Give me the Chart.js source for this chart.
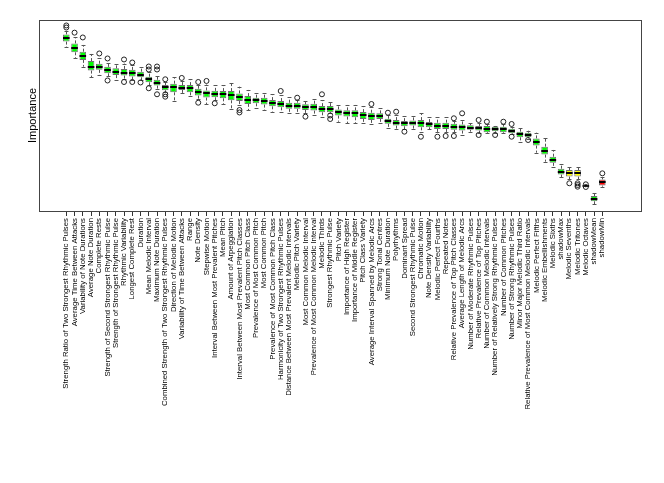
<!DOCTYPE html>
<html><head><meta charset="utf-8">
<script src="https://cdn.jsdelivr.net/npm/chart.js@4/dist/chart.umd.min.js"></script>
<style>html,body{margin:0;padding:0;background:#fff;}canvas{display:block}</style>
</head><body>
<canvas id="c" width="664" height="483"></canvas>
<script>
const features = [
"Strength Ratio of Two Strongest Rhythmic Pulses","Average Time Between Attacks","Variability of Note Durations","Average Note Duration","Complete Rests",
"Strength of Second Strongest Rhythmic Pulse","Strength of Strongest Rhythmic Pulse","Rhythmic Variability","Longest Complete Rest","Duration",
"Mean Melodic Interval","Maximum Note Duration","Combined Strength of Two Strongest Rhythmic Pulses","Direction of Melodic Motion","Variability of Time Between Attacks",
"Range","Note Density","Stepwise Motion","Interval Between Most Prevalent Pitches","Mean Pitch",
"Amount of Arpeggiation","Interval Between Most Prevalent Pitch Classes","Most Common Pitch Class","Prevalence of Most Common Pitch","Most Common Pitch",
"Prevalence of Most Common Pitch Class","Harmonicity of Two Strongest Rhythmic Pulses","Distance Between Most Prevalent Melodic Intervals","Melodic Pitch Variety","Most Common Melodic Interval",
"Prevalence of Most Common Melodic Interval","Melodic Thirds","Strongest Rhythmic Pulse","Pitch Variety","Importance of High Register",
"Importance of Middle Register","Pitch Class Variety","Average Interval Spanned by Melodic Arcs","Strong Tonal Centres","Minimum Note Duration",
"Polyrhythms","Dominant Spread","Second Strongest Rhythmic Pulse","Chromatic Motion","Note Density Variability",
"Melodic Perfect Fourths","Repeated Notes","Relative Prevalence of Top Pitch Classes","Average Length of Melodic Arcs","Number of Moderate Rhythmic Pulses",
"Relative Prevalence of Top Pitches","Number of Common Melodic Intervals","Number of Relatively Strong Rhythmic Pulses","Number of Common Pitches","Number of Strong Rhythmic Pulses",
"Minor Major Melodic Third Ratio","Relative Prevalence of Most Common Melodic Intervals","Melodic Perfect Fifths","Melodic Embellishments","Melodic Sixths",
"shadowMax","Melodic Sevenths","Melodic Tritones","Melodic Octaves","shadowMean","shadowMin"];

const decision = [
"Confirmed","Confirmed","Confirmed","Confirmed","Confirmed","Confirmed","Confirmed","Confirmed","Confirmed","Confirmed",
"Confirmed","Confirmed","Confirmed","Confirmed","Confirmed","Confirmed","Confirmed","Confirmed","Confirmed","Confirmed",
"Confirmed","Confirmed","Confirmed","Confirmed","Confirmed","Confirmed","Confirmed","Confirmed","Confirmed","Confirmed",
"Confirmed","Confirmed","Confirmed","Confirmed","Confirmed","Confirmed","Confirmed","Confirmed","Confirmed","Confirmed",
"Confirmed","Confirmed","Confirmed","Confirmed","Confirmed","Confirmed","Confirmed","Confirmed","Confirmed","Confirmed",
"Confirmed","Confirmed","Confirmed","Confirmed","Confirmed","Confirmed","Confirmed","Confirmed","Confirmed","Confirmed",
"Confirmed","Tentative","Tentative","Rejected","Confirmed","Rejected"];

const whiskerHigh = [30.0,28.95,27.67,26.17,25.42,24.72,24.58,24.58,24.33,24.0,
23.17,22.5,21.5,22.28,21.67,22.0,21.0,21.08,20.92,20.92,
21.38,20.72,20.17,19.62,19.62,19.45,19.33,18.95,18.58,18.38,
18.62,18.5,18.22,17.67,17.67,17.67,17.5,17.33,17.12,16.0,
16.0,15.83,15.83,16.28,15.62,15.62,15.62,15.0,15.17,14.62,
14.67,14.5,14.17,14.42,14.0,13.78,13.38,13.05,12.12,10.17,
7.78,7.38,7.38,4.3,3.05,5.62];

const upperQuartile = [29.43,27.93,26.55,24.98,24.55,24.02,23.77,23.68,23.52,23.22,
22.38,21.88,20.98,21.22,20.98,20.98,20.38,20.1,20.02,19.98,
19.98,19.6,19.15,18.88,18.88,18.48,18.32,18.05,18.05,17.77,
17.88,17.48,17.48,16.93,16.77,16.77,16.48,16.38,16.27,15.38,
15.15,14.98,15.1,15.15,14.82,14.72,14.72,14.55,14.43,14.27,
14.18,14.15,14.05,14.05,13.72,13.22,13.05,12.1,10.72,9.05,
7.05,6.82,6.82,4.25,2.48,5.27];

const median = [28.75,27.22,25.88,24.08,24.05,23.5,23.17,23.08,22.92,22.67,
21.95,21.38,20.65,20.6,20.55,20.45,19.83,19.62,19.55,19.47,
19.33,18.92,18.58,18.5,18.33,17.95,17.83,17.55,17.5,17.28,
17.28,17.0,17.0,16.45,16.28,16.28,16.0,15.88,15.88,15.0,
14.72,14.7,14.68,14.62,14.45,14.22,14.22,14.05,13.95,13.88,
13.83,13.68,13.66,13.64,13.38,12.78,12.67,11.45,10.05,8.5,
6.55,6.28,6.28,4.22,2.0,4.78];

const lowerQuartile = [28.23,26.45,25.18,23.4,23.52,22.95,22.65,22.57,22.4,22.28,
21.45,20.9,20.12,19.78,20.18,19.78,19.23,18.9,18.95,18.78,
18.45,18.32,17.85,17.95,17.73,17.45,17.28,17.02,17.02,16.85,
16.73,16.45,16.45,15.9,15.73,15.62,15.35,15.18,15.35,14.52,
14.23,14.12,14.23,13.95,13.95,13.68,13.68,13.52,13.4,13.52,
13.4,13.12,13.28,13.12,12.95,12.28,12.28,10.9,9.4,8.02,
6.07,5.73,5.73,4.18,1.62,4.23];

const whiskerLow = [27.33,25.42,24.05,22.25,22.67,22.5,21.83,22.0,21.83,21.83,
21.0,20.33,19.83,18.33,19.62,19.22,18.67,17.83,18.5,17.78,
17.05,17.67,16.83,17.12,16.83,16.55,16.55,16.28,16.28,16.33,
16.0,15.72,16.25,14.88,14.62,14.62,14.62,14.5,14.72,13.78,
13.62,13.67,13.62,13.17,13.62,13.17,13.17,13.17,12.67,13.22,
13.0,12.95,13.08,12.95,12.75,11.55,12.08,9.72,8.22,7.38,
5.62,5.33,5.33,4.13,1.12,4.05];

const outlierFeature = [1,1,2,3,5,6,6,8,8,9,9,10,11,11,11,12,12,12,13,13,13,15,17,17,18,19,22,22,27,29,30,32,33,33,38,40,41,42,44,46,47,48,48,49,51,51,52,53,54,55,55,57,62,63,63,63,64,64,66];
const outlierValue = [30.92,30.58,29.72,28.92,26.25,25.42,21.75,25.25,21.5,24.75,21.5,21.42,24.08,23.58,20.45,24.08,23.58,19.45,21.95,19.45,19.05,22.17,21.5,18.05,21.67,17.95,16.83,16.42,20.0,18.88,15.72,19.45,15.92,15.33,17.83,16.38,16.55,13.22,12.38,12.38,12.5,15.45,12.5,16.28,15.17,12.67,14.88,12.67,14.88,14.5,12.38,11.83,4.62,4.62,4.33,4.05,4.45,4.0,6.28];

const decisionColor = {Confirmed:'#00FF00', Tentative:'#FFFF00', Rejected:'#FF0000'};
const edge = '#707070';

const boxParts = {
  id:'boxParts',
  beforeDatasetsDraw(chart){
    const {ctx, scales:{x,y}} = chart;
    const meta = chart.getDatasetMeta(0);
    ctx.save();
    ctx.strokeStyle = '#555'; ctx.lineWidth = 1;
    features.forEach((f,i)=>{
      const w = meta.data[i].width;
      const cx = Math.round(x.getPixelForValue(i+1)) + 0.5;
      const yh = y.getPixelForValue(whiskerHigh[i]), y3 = y.getPixelForValue(upperQuartile[i]);
      const yl = y.getPixelForValue(whiskerLow[i]), y1 = y.getPixelForValue(lowerQuartile[i]);
      ctx.setLineDash([3,2]);
      ctx.beginPath(); ctx.moveTo(cx,y3); ctx.lineTo(cx,yh); ctx.moveTo(cx,y1); ctx.lineTo(cx,yl); ctx.stroke();
      ctx.setLineDash([]);
      const s = w*0.3;
      ctx.beginPath();
      ctx.moveTo(cx-s,Math.round(yh)+0.5); ctx.lineTo(cx+s,Math.round(yh)+0.5);
      ctx.moveTo(cx-s,Math.round(yl)+0.5); ctx.lineTo(cx+s,Math.round(yl)+0.5);
      ctx.stroke();
    });
    ctx.restore();
  },
  afterDatasetDraw(chart, args){
    if(args.index !== 0) return;
    const {ctx, scales:{x,y}} = chart;
    const meta = chart.getDatasetMeta(0);
    ctx.save();
    ctx.strokeStyle = '#000'; ctx.lineWidth = 2;
    features.forEach((f,i)=>{
      const w = meta.data[i].width;
      const cx = x.getPixelForValue(i+1);
      const ym = Math.round(y.getPixelForValue(median[i]));
      ctx.beginPath(); ctx.moveTo(cx-w/2,ym); ctx.lineTo(cx+w/2,ym); ctx.stroke();
    });
    ctx.restore();
  },
  afterDraw(chart){
    const {ctx, chartArea:a} = chart;
    ctx.save();
    ctx.strokeStyle = '#444'; ctx.lineWidth = 1;
    ctx.strokeRect(Math.round(a.left)-0.5, Math.round(a.top)+0.5, Math.round(a.right-a.left)+1, Math.round(a.bottom-a.top));
    ctx.restore();
  }
};

new Chart(document.getElementById('c'), {
  type:'bar',
  data:{
    datasets:[
      { type:'bar',
        data: features.map((f,i)=>({x:i+1, y:[lowerQuartile[i], upperQuartile[i]]})),
        backgroundColor: decision.map(d=>decisionColor[d]),
        borderColor: edge, borderWidth:1, borderSkipped:false,
        barPercentage:0.8, categoryPercentage:1, order:2 },
      { type:'scatter',
        data: outlierFeature.map((k,j)=>({x:k, y:outlierValue[j]})),
        pointRadius:2.5, pointBorderWidth:1, pointBorderColor:'#222',
        pointBackgroundColor:'rgba(0,0,0,0)', showLine:false, order:1 }
    ]
  },
  options:{
    responsive:false, animation:false, devicePixelRatio:1,
    layout:{padding:{top:20, right:23, left:0, bottom:0}},
    plugins:{legend:{display:false}, tooltip:{enabled:false}},
    scales:{
      x:{ type:'linear', min:-2.19, max:70.69, offset:false,
        grid:{display:true, drawOnChartArea:false, drawTicks:true, tickLength:5, color:'#333', offset:false},
        border:{display:false},
        afterBuildTicks:(s)=>{ s.ticks = features.map((f,i)=>({value:i+1})); },
        afterFit:(s)=>{ s.height = 483-211; },
        ticks:{ autoSkip:false, minRotation:90, maxRotation:90, padding:2, color:'#000',
          font:{family:'"Liberation Sans", Arial, sans-serif', size:7.8},
          callback:(v)=>features[v-1] }
      },
      y:{ type:'linear', min:0, max:31.83,
        grid:{display:false}, border:{display:false},
        ticks:{display:false},
        afterFit:(s)=>{ s.width = 40; },
        title:{display:true, text:'Importance', color:'#000', padding:{top:26.4, bottom:0},
          font:{family:'"Liberation Sans", Arial, sans-serif', size:11}}
      }
    }
  },
  plugins:[boxParts]
});
</script>
</body></html>
